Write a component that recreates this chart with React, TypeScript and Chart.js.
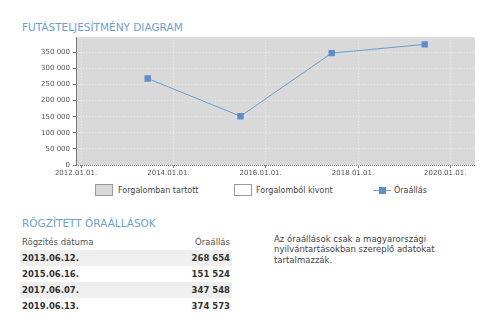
import React, { useEffect, useRef } from "react";
import { Chart, registerables } from "chart.js";

Chart.register(...registerables);

const recordDates = ["2013.06.12.", "2015.06.16.", "2017.06.07.", "2019.06.13."];
const recordValues = [268654, 151524, 347548, 374573];
const xTickYears = [2012, 2014, 2016, 2018, 2020];
const yTickValues = [0, 50000, 100000, 150000, 200000, 250000, 300000, 350000];
const chartTitle = "FUTÁSTELJESÍTMÉNY DIAGRAM";
const tableTitle = "RÖGZÍTETT ÓRAÁLLÁSOK";
const legendLabels = ["Forgalomban tartott", "Forgalomból kivont", "Óraállás"];
const tableHeaders = ["Rögzítés dátuma", "Óraállás"];
const noteLines = [
  "Az óraállások csak a magyarországi",
  "nyilvántartásokban szereplő adatokat",
  "tartalmazzák.",
];

const FONT = "'DejaVu Sans', sans-serif";
const BLUE = "#5b8fcc";

function parseDate(s: string): number {
  const [y, m, d] = s.split(".").map((p) => parseInt(p, 10));
  return Date.UTC(y, m - 1, d);
}
function fmtNum(n: number): string {
  return String(Math.round(n)).replace(/\B(?=(\d{3})+(?!\d))/g, " ");
}
function fmtDate(t: number): string {
  const d = new Date(t);
  const p = (v: number) => String(v).padStart(2, "0");
  return `${d.getUTCFullYear()}.${p(d.getUTCMonth() + 1)}.${p(d.getUTCDate())}.`;
}

const bgPlugin = {
  id: "plotBg",
  beforeDraw(chart: any) {
    const { ctx, chartArea: a } = chart;
    ctx.save();
    ctx.fillStyle = "#d9d9d9";
    ctx.fillRect(a.left, a.top, a.right - a.left, a.bottom - a.top);
    ctx.restore();
  },
  afterDraw(chart: any) {
    const { ctx, chartArea: a } = chart;
    ctx.save();
    ctx.strokeStyle = "#7a7a7a";
    ctx.lineWidth = 1;
    ctx.setLineDash([1, 1]);
    ctx.beginPath();
    ctx.moveTo(a.left, Math.round(a.bottom) + 0.5);
    ctx.lineTo(a.right, Math.round(a.bottom) + 0.5);
    ctx.stroke();
    ctx.restore();
  },
};

function PlotChart() {
  const ref = useRef<HTMLCanvasElement>(null);
  useEffect(() => {
    if (!ref.current) return;
    const chart = new Chart(ref.current, {
      type: "line",
      data: {
        datasets: [
          {
            label: legendLabels[2],
            data: recordDates.map((d, i) => ({ x: parseDate(d), y: recordValues[i] })),
            borderColor: "#6d9bd3",
            borderWidth: 1,
            backgroundColor: BLUE,
            pointStyle: "rect",
            pointRadius: 4.5,
            pointBorderWidth: 0,
            pointBackgroundColor: BLUE,
            tension: 0,
          },
        ],
      },
      options: {
        responsive: false,
        animation: false,
        devicePixelRatio: 1,
        layout: { padding: { top: 7, right: 5, left: 0, bottom: 0 } },
        plugins: { legend: { display: false }, tooltip: { enabled: false } },
        scales: {
          x: {
            type: "linear",
            min: Date.UTC(2011, 10, 22),
            max: Date.UTC(2020, 6, 15),
            afterFit: (s: any) => {
              s.height = 15;
            },
            afterBuildTicks: (s: any) => {
              s.ticks = xTickYears.map((y) => ({ value: Date.UTC(y, 0, 1) }));
            },
            ticks: {
              callback: (v: any) => fmtDate(Number(v)),
              font: { family: FONT, size: 7 },
              color: "#555",
              padding: 1,
              labelOffset: -5,
              maxRotation: 0,
              autoSkip: false,
            },
            grid: {
              color: "rgba(255,255,255,0.45)",
              tickColor: "#777",
              tickLength: 3,
            },
            border: { display: false, dash: [1, 2] },
          },
          y: {
            type: "linear",
            min: 0,
            max: 397000,
            afterFit: (s: any) => {
              s.width = 76;
            },
            afterBuildTicks: (s: any) => {
              s.ticks = yTickValues.map((v) => ({ value: v }));
            },
            ticks: {
              callback: (v: any) => fmtNum(Number(v)),
              font: { family: FONT, size: 7 },
              color: "#555",
              padding: 3,
            },
            grid: {
              color: "rgba(255,255,255,0.45)",
              tickColor: "#777",
              tickLength: 3,
            },
            border: { display: true, color: "#777", width: 1, dash: [1, 2] },
          },
        },
      },
      plugins: [bgPlugin],
    } as any);
    return () => chart.destroy();
  }, []);
  return <canvas ref={ref} width={480} height={150} style={{ width: 480, height: 150, display: "block" }} />;
}

export default function App() {
  const titleStyle: React.CSSProperties = {
    position: "absolute",
    left: 22,
    fontSize: 10.5,
    lineHeight: "12px",
    color: "#6d9fcf",
    whiteSpace: "nowrap",
  };
  const legendText: React.CSSProperties = {
    position: "absolute",
    top: 185,
    fontSize: 8,
    lineHeight: "12px",
    color: "#444",
    whiteSpace: "nowrap",
  };
  return (
    <div
      style={{
        position: "absolute",
        left: 0,
        top: 0,
        width: 480,
        height: 323,
        background: "#fff",
        fontFamily: FONT,
        overflow: "hidden",
      }}
    >
      <div style={{ ...titleStyle, top: 21 }}>{chartTitle}</div>
      <div style={{ position: "absolute", left: 0, top: 30 }}>
        <PlotChart />
      </div>

      {/* legend */}
      <div
        style={{
          position: "absolute",
          left: 95,
          top: 184,
          width: 18,
          height: 12,
          boxSizing: "border-box",
          background: "#d9d9d9",
          border: "1px solid #999",
        }}
      />
      <div style={{ ...legendText, left: 118 }}>{legendLabels[0]}</div>
      <div
        style={{
          position: "absolute",
          left: 234,
          top: 184,
          width: 18,
          height: 12,
          boxSizing: "border-box",
          background: "#fff",
          border: "1px solid #999",
        }}
      />
      <div style={{ ...legendText, left: 256 }}>{legendLabels[1]}</div>
      <div style={{ position: "absolute", left: 373, top: 190, width: 18, height: 1, background: "#6d9bd3" }} />
      <div style={{ position: "absolute", left: 379, top: 187, width: 7, height: 7, background: BLUE }} />
      <div style={{ ...legendText, left: 394 }}>{legendLabels[2]}</div>

      {/* table */}
      <div style={{ ...titleStyle, top: 216.5 }}>{tableTitle}</div>
      <div
        style={{
          position: "absolute",
          left: 20,
          top: 234,
          width: 212,
          height: 16,
          display: "flex",
          justifyContent: "space-between",
          alignItems: "center",
          padding: "0 2px",
          boxSizing: "border-box",
          fontSize: 8.5,
          color: "#555",
        }}
      >
        <span>{tableHeaders[0]}</span>
        <span>{tableHeaders[1]}</span>
      </div>
      {recordDates.map((d, i) => (
        <div
          key={d}
          style={{
            position: "absolute",
            left: 20,
            top: 249.5 + 16 * i,
            width: 212,
            height: 16,
            display: "flex",
            justifyContent: "space-between",
            alignItems: "center",
            padding: "0 2px",
            boxSizing: "border-box",
            fontSize: 8.5,
            fontWeight: "bold",
            color: "#333",
            background: i % 2 === 0 ? "#efefef" : "transparent",
          }}
        >
          <span>{d}</span>
          <span>{fmtNum(recordValues[i])}</span>
        </div>
      ))}

      {/* note */}
      <div
        style={{
          position: "absolute",
          left: 274,
          top: 234,
          fontSize: 8.5,
          lineHeight: "10.3px",
          color: "#444",
          whiteSpace: "nowrap",
        }}
      >
        {noteLines.map((l, i) => (
          <div key={i}>{l}</div>
        ))}
      </div>
    </div>
  );
}
